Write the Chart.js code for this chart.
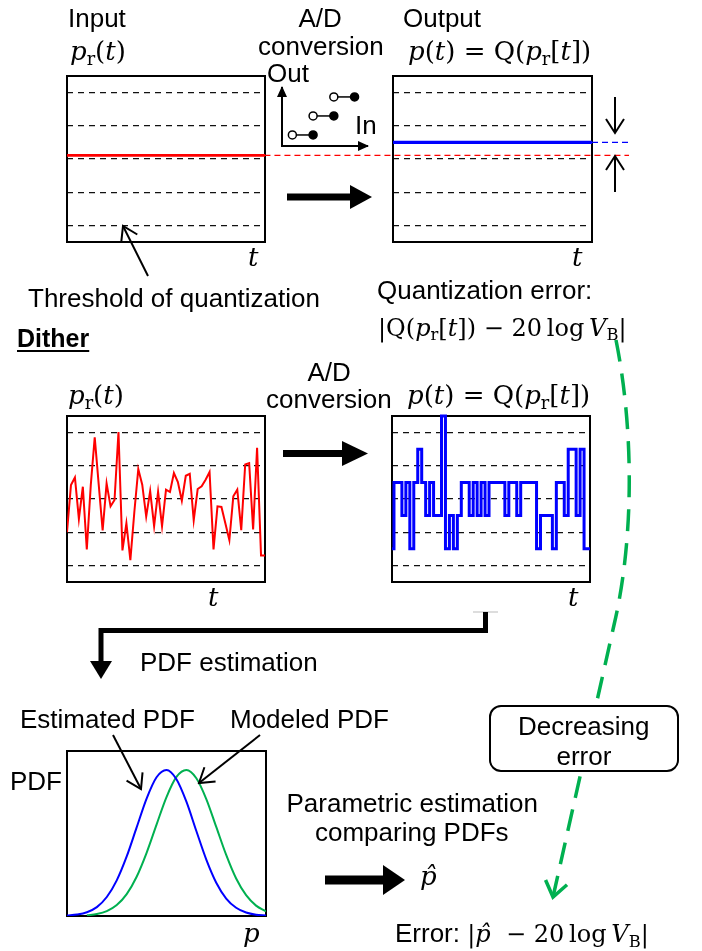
<!DOCTYPE html>
<html>
<head>
<meta charset="utf-8">
<script src="https://cdn.jsdelivr.net/npm/chart.js@4.4.1/dist/chart.umd.min.js"></script>
<style>
body{margin:0;background:#fff;}
#page{position:relative;width:702px;height:951px;overflow:hidden;font-family:"Liberation Sans",Arial,sans-serif;color:#000;}
canvas{position:absolute;}
svg{position:absolute;left:0;top:0;}
.t{position:absolute;white-space:nowrap;font-size:26px;line-height:1;}
.m{font-family:"DejaVu Serif",serif;font-size:26px;}
.s{font-size:24px;}
.t i{font-style:italic;}
.sb{font-size:0.68em;position:relative;top:0.3em;font-style:normal;}
.b{font-weight:bold;text-decoration:underline;text-underline-offset:3px;font-size:25px;}
</style>
</head>
<body>
<div id="page">
<canvas id="inTop"></canvas>
<canvas id="adIcon"></canvas>
<canvas id="outTop"></canvas>
<canvas id="inDither"></canvas>
<canvas id="outDither"></canvas>
<canvas id="pdf"></canvas>
<svg width="702" height="951">
  <defs>
    <marker id="ah" markerUnits="userSpaceOnUse" markerWidth="18" markerHeight="22" refX="16" refY="11" orient="auto">
      <path d="M2,2 L16,11 L2,20" fill="none" stroke="#000" stroke-width="2"/>
    </marker>
    <marker id="ahg" markerUnits="userSpaceOnUse" markerWidth="20" markerHeight="26" refX="17" refY="13" orient="auto">
      <path d="M2,2 L17,13 L2,24" fill="none" stroke="#00b050" stroke-width="3.5"/>
    </marker>
  </defs>
  <!-- A/D icon axes heads -->
  <polygon points="277,97 282,86 287,97" fill="#000"/>
  <polygon points="358,141 369,146 358,151" fill="#000"/>
  <!-- threshold pointer -->
  <line x1="148" y1="276" x2="123" y2="226" stroke="#000" stroke-width="2" marker-end="url(#ah)"/>
  <!-- big arrows -->
  <rect x="287" y="193.5" width="65" height="7" fill="#000"/>
  <polygon points="350,185 372,197 350,209" fill="#000"/>
  <rect x="283" y="450" width="62" height="7" fill="#000"/>
  <polygon points="342,441 368,453.5 342,466" fill="#000"/>
  <rect x="325" y="875.5" width="60" height="9" fill="#000"/>
  <polygon points="383,865 405,880 383,895" fill="#000"/>
  <!-- error pointers -->
  <line x1="615" y1="97" x2="615" y2="133" stroke="#000" stroke-width="2" marker-end="url(#ah)"/>
  <line x1="615" y1="192" x2="615" y2="156" stroke="#000" stroke-width="2" marker-end="url(#ah)"/>
  <!-- PDF estimation connector -->
  <line x1="473" y1="612" x2="498" y2="612" stroke="#bbb" stroke-width="1"/>
  <polyline points="485.5,612 485.5,630.5 101,630.5 101,662" fill="none" stroke="#000" stroke-width="5"/>
  <polygon points="90,661 112,661 101,679" fill="#000"/>
  <!-- PDF pointers -->
  <line x1="113" y1="735" x2="141" y2="789" stroke="#000" stroke-width="2" marker-end="url(#ah)"/>
  <line x1="260" y1="735" x2="199" y2="783" stroke="#000" stroke-width="2" marker-end="url(#ah)"/>
  <!-- decreasing error path -->
  <path d="M616,340 C634,430 634,540 614,625 L553,897" fill="none" stroke="#00b050" stroke-width="3.5" stroke-dasharray="22 12" marker-end="url(#ahg)"/>
  <rect x="490" y="706" width="188" height="65" rx="11" ry="11" fill="#fff" stroke="#000" stroke-width="2"/>
</svg>
</div>
<script>
// quantizer thresholds and levels (same units for all level plots)
var thresholdLevels = [0.5, 1.5, 2.5, 3.5, 4.5];
var levelRange = [0, 5];
var timeRange = [0, 50];

// constant input and its quantized output
var levelTime = [0, 50];
var inputLevel = [2.61, 2.61];
var outputLevel = [3, 3];
var guideTime = [-32.3, 59.3];
var outputGuideTime = [50, 59.3];

// dithered input and quantized output, one value per sample
var ditherInput = [1.50, 2.92, 3.15, 1.90, 2.87, 0.98, 2.91, 4.36, 2.95, 1.55,
  2.97, 2.28, 2.47, 4.52, 0.95, 1.77, 0.66, 2.10, 3.40, 2.93,
  1.97, 2.74, 1.68, 2.72, 1.68, 2.78, 2.71, 3.28, 3.01, 2.45,
  3.20, 3.26, 1.86, 2.80, 2.88, 3.08, 3.31, 0.98, 2.28, 2.26,
  1.76, 1.26, 2.58, 2.78, 1.56, 3.54, 3.58, 1.58, 4.04, 0.80,
  0.80, 2.40];
var ditherOutput = [1, 3, 3, 2, 3, 1, 3, 4, 3, 2,
  3, 2, 2, 5, 1, 2, 1, 2, 3, 3,
  2, 3, 2, 3, 2, 3, 3, 3, 3, 2,
  3, 3, 2, 3, 3, 3, 3, 1, 2, 2,
  2, 1, 3, 3, 2, 4, 4, 2, 4, 1,
  1, 3];

// PDFs
var pdfX = [0, 0.05, 0.1, 0.15, 0.2, 0.25, 0.3, 0.35, 0.4, 0.45, 0.5,
  0.55, 0.6, 0.65, 0.7, 0.75, 0.8, 0.85, 0.9, 0.95, 1];
var pdfEstimated = [0.003, 0.009, 0.023, 0.054, 0.115, 0.216, 0.361, 0.537, 0.712, 0.841, 0.885,
  0.829, 0.693, 0.515, 0.342, 0.202, 0.106, 0.050, 0.021, 0.008, 0.003];
var pdfModeledX = [0.1, 0.15, 0.2, 0.25, 0.3, 0.35, 0.4, 0.45, 0.5,
  0.55, 0.6, 0.65, 0.7, 0.75, 0.8, 0.85, 0.9, 0.95, 1];
var pdfModeled = [0.004, 0.012, 0.030, 0.067, 0.133, 0.238, 0.383, 0.554, 0.721,
  0.843, 0.885, 0.835, 0.709, 0.540, 0.370, 0.227, 0.126, 0.063, 0.028];

// A/D characteristic icon
var stepLeft = [0.5, 1.5, 2.5];
var stepRight = [1.5, 2.5, 3.5];
var stepOut = [1, 2, 3];

var boxPlugin = {
  id: 'box',
  beforeDatasetsDraw: function(chart) {
    var a = chart.chartArea, ctx = chart.ctx;
    ctx.save();
    ctx.strokeStyle = '#000';
    ctx.lineWidth = 2;
    ctx.strokeRect(a.left, a.top, a.right - a.left, a.bottom - a.top);
    ctx.restore();
  }
};

function pts(xs, ys) {
  return ys.map(function(v, i) { return {x: xs[i], y: v}; });
}

function boxChart(id, box, pad, datasets, xr, yr, grid) {
  var cv = document.getElementById(id);
  cv.width = box[2] - box[0] + pad[0] + pad[2];
  cv.height = box[3] - box[1] + pad[1] + pad[3];
  cv.style.left = (box[0] - pad[0]) + 'px';
  cv.style.top = (box[1] - pad[1]) + 'px';
  return new Chart(cv, {
    type: 'line',
    data: {datasets: datasets},
    options: {
      responsive: false,
      animation: false,
      events: [],
      layout: {padding: {left: pad[0], top: pad[1], right: pad[2], bottom: pad[3]}},
      plugins: {legend: {display: false}, tooltip: {enabled: false}},
      elements: {point: {radius: 0}},
      scales: {
        x: {type: 'linear', min: xr[0], max: xr[1], display: false},
        y: {
          type: 'linear', min: yr[0], max: yr[1], display: !!grid,
          ticks: {display: false},
          grid: {drawTicks: false, color: '#111', lineWidth: 1.3},
          border: {display: false, dash: [6, 5]},
          afterBuildTicks: function(axis) {
            if (grid) axis.ticks = grid.map(function(v) { return {value: v}; });
          }
        }
      }
    },
    plugins: [boxPlugin]
  });
}

boxChart('inTop', [67, 76, 265, 242], [4, 4, 4, 4], [
  {data: pts(levelTime, inputLevel), borderColor: '#ff0000', borderWidth: 2.6}
], timeRange, levelRange, thresholdLevels);

boxChart('outTop', [393, 76, 592, 242], [132, 4, 45, 4], [
  {data: pts(guideTime, inputLevel), borderColor: '#ff0000', borderWidth: 1.3, borderDash: [6, 4], clip: false},
  {data: pts(outputGuideTime, outputLevel), borderColor: '#0000ff', borderWidth: 1.3, borderDash: [6, 4], clip: false},
  {data: pts(levelTime, outputLevel), borderColor: '#0000ff', borderWidth: 3.4}
], timeRange, levelRange, thresholdLevels);

boxChart('inDither', [67, 416, 265, 582], [4, 4, 4, 4], [
  {data: ditherInput.map(function(v, i) { return {x: i, y: v}; }), borderColor: '#ff0000', borderWidth: 2,
   clip: {left: 0, top: 3, right: 2, bottom: 3}}
], timeRange, levelRange, thresholdLevels);

boxChart('outDither', [392, 416, 590, 582], [4, 4, 4, 4], [
  {data: ditherOutput.map(function(v, i) { return {x: i, y: v}; }), borderColor: '#0000ff', borderWidth: 3,
   stepped: 'middle', clip: {left: 2, top: 3, right: 2, bottom: 3}}
], timeRange, levelRange, thresholdLevels);

boxChart('pdf', [67, 751, 266, 916], [4, 4, 4, 4], [
  {data: pts(pdfX, pdfEstimated), borderColor: '#0000ff', borderWidth: 2, cubicInterpolationMode: 'monotone'},
  {data: pts(pdfModeledX, pdfModeled), borderColor: '#00b050', borderWidth: 2, cubicInterpolationMode: 'monotone'}
], [0, 1], [0, 1], null);

// A/D icon: staircase with open/closed ends
(function() {
  var cv = document.getElementById('adIcon');
  var box = [282, 88, 367, 146], pad = 6;
  cv.width = box[2] - box[0] + 2 * pad;
  cv.height = box[3] - box[1] + 2 * pad;
  cv.style.left = (box[0] - pad) + 'px';
  cv.style.top = (box[1] - pad) + 'px';
  var ds = stepOut.map(function(y, k) {
    return {
      data: [{x: stepLeft[k], y: y}, {x: stepRight[k], y: y}],
      borderColor: '#000', borderWidth: 1.5,
      pointRadius: 4, pointBorderWidth: 1.5, pointBorderColor: '#000',
      pointBackgroundColor: ['#fff', '#000'], clip: false
    };
  });
  new Chart(cv, {
    type: 'line',
    data: {datasets: ds},
    options: {
      responsive: false, animation: false, events: [],
      layout: {padding: pad},
      plugins: {legend: {display: false}, tooltip: {enabled: false}},
      scales: {
        x: {type: 'linear', min: 0, max: 4.1, ticks: {display: false}, grid: {display: false, drawTicks: false},
            border: {display: true, color: '#000', width: 2}},
        y: {type: 'linear', min: 0.42, max: 3.47, ticks: {display: false}, grid: {display: false, drawTicks: false},
            border: {display: true, color: '#000', width: 2}}
      }
    }
  });
})();

var page = document.getElementById('page');
function label(html, x, base, cls, align) {
  var d = document.createElement('div');
  d.className = 't ' + (cls || '');
  d.innerHTML = html;
  page.appendChild(d);
  var size = parseFloat(getComputedStyle(d).fontSize);
  d.style.top = (base - 0.85 * size) + 'px';
  d.style.left = (align === 'c' ? x - d.offsetWidth / 2 : x) + 'px';
}

var pr = '<i>p</i><span class="sb">r</span>';
var vb = '20&thinsp;log&thinsp;<i>V</i><span class="sb">B</span>|';
label('Input', 68, 27);
label('A/D', 320, 27, '', 'c');
label('conversion', 321, 55, '', 'c');
label('Output', 403, 27);
label(pr + '(<i>t</i>)', 70, 60, 'm');
label('<i>p</i>(<i>t</i>) = Q(' + pr + '[<i>t</i>])', 408, 60, 'm');
label('Out', 267, 82);
label('In', 355, 134);
label('<i>t</i>', 248, 266, 'm');
label('<i>t</i>', 572, 266, 'm');
label('Threshold of quantization', 28, 307);
label('Quantization error:', 377, 299);
label('|Q(' + pr + '[<i>t</i>]) − ' + vb, 378, 336, 'm s');
label('Dither', 17, 347, 'b');
label('A/D', 329, 381, '', 'c');
label('conversion', 329, 408, '', 'c');
label(pr + '(<i>t</i>)', 68, 404, 'm');
label('<i>p</i>(<i>t</i>) = Q(' + pr + '[<i>t</i>])', 407, 404, 'm');
label('<i>t</i>', 208, 606, 'm');
label('<i>t</i>', 568, 606, 'm');
label('PDF estimation', 140, 671);
label('Estimated PDF', 20, 728);
label('Modeled PDF', 230, 728);
label('PDF', 10, 790);
label('<i>p</i>', 243, 942, 'm');
label('Decreasing', 584, 735, '', 'c');
label('error', 584, 765, '', 'c');
label('Parametric estimation', 412, 812, '', 'c');
label('comparing PDFs', 412, 841, '', 'c');
label('<i>p̂</i>', 420, 885, 'm');
label('Error: <span class="m s">|<i>p̂</i>&nbsp; − ' + vb + '</span>', 395, 942);
</script>
</body>
</html>
